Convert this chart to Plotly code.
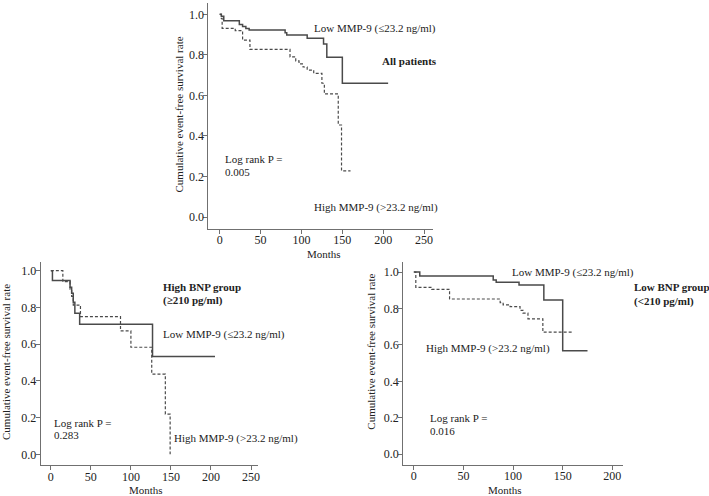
import plotly.graph_objects as go

# ---------------- data ----------------
# All patients
all_low_t = [0, 2, 5, 24, 28, 32, 36, 80, 82, 107, 127, 131, 150, 206]
all_low_s = [1.0, 0.99, 0.968, 0.95, 0.94, 0.93, 0.922, 0.909, 0.898, 0.882, 0.853, 0.788, 0.66, 0.66]
all_high_t = [0, 2, 3, 19, 28, 37, 86, 93, 97, 102, 107, 115, 125, 128, 145, 149, 160]
all_high_s = [1.0, 0.98, 0.931, 0.92, 0.873, 0.827, 0.79, 0.77, 0.755, 0.74, 0.725, 0.709, 0.66, 0.607, 0.454, 0.228, 0.228]

# High BNP group
hbnp_low_t = [0, 2, 24, 26, 28, 30, 36, 127, 205]
hbnp_low_s = [1.0, 0.946, 0.91, 0.877, 0.828, 0.768, 0.708, 0.532, 0.532]
hbnp_high_t = [0, 15, 24, 26, 28, 37, 87, 100, 126, 143, 149]
hbnp_high_s = [1.0, 0.94, 0.90, 0.86, 0.813, 0.75, 0.672, 0.583, 0.437, 0.219, 0.0]

# Low BNP group
lbnp_low_t = [0, 6, 80, 83, 106, 131, 150, 175]
lbnp_low_s = [1.0, 0.978, 0.956, 0.944, 0.929, 0.847, 0.568, 0.568]
lbnp_high_t = [0, 2, 18, 36, 87, 90, 97, 107, 110, 115, 130, 161]
lbnp_high_s = [1.0, 0.916, 0.905, 0.852, 0.832, 0.82, 0.81, 0.79, 0.774, 0.743, 0.67, 0.67]

y_ticks = [0.0, 0.2, 0.4, 0.6, 0.8, 1.0]
x_ticks_250 = [0, 50, 100, 150, 200, 250]
x_ticks_200 = [0, 50, 100, 150, 200]

low_label = "Low MMP-9 (≤23.2 ng/ml)"
high_label = "High MMP-9 (>23.2 ng/ml)"
y_title = "Cumulative event-free survival rate"
x_title = "Months"

# ---------------- figure ----------------
W, H = 709, 496
FONT = "Liberation Serif, Times New Roman, serif"
LINE_COL = "#4a4a4a"
AX_COL = "#707070"


def px(x):
    return x / W


def py(y):
    return 1 - y / H


fig = go.Figure()

panels = [
    ("x", "y", all_low_t, all_low_s, all_high_t, all_high_s),
    ("x2", "y2", hbnp_low_t, hbnp_low_s, hbnp_high_t, hbnp_high_s),
    ("x3", "y3", lbnp_low_t, lbnp_low_s, lbnp_high_t, lbnp_high_s),
]
for xa, ya, lt, ls, ht, hs in panels:
    fig.add_trace(go.Scatter(x=lt, y=ls, mode="lines", line_shape="hv",
                             line=dict(color=LINE_COL, width=1.5),
                             xaxis=xa, yaxis=ya, showlegend=False, hoverinfo="skip"))
    fig.add_trace(go.Scatter(x=ht, y=hs, mode="lines", line_shape="hv",
                             line=dict(color=LINE_COL, width=1.2, dash="3px,2px"),
                             xaxis=xa, yaxis=ya, showlegend=False, hoverinfo="skip"))

axis_common = dict(showline=True, linecolor=AX_COL, linewidth=1, ticks="outside",
                   ticklen=4, tickcolor=AX_COL, showgrid=False, zeroline=False,
                   tickfont=dict(family=FONT, size=12, color="#222"))
xax = dict(ticklabelstandoff=-4, **axis_common)
yax = dict(ticklabelstandoff=-3, tickformat=".1f", **axis_common)

# domains (pixels -> paper)
dom = {
    "top": (209, 434, 3, 228.7),
    "bl": (40.7, 258.3, 261.7, 465.3),
    "br": (404.3, 624.3, 261.7, 464.5),
}


def xd(k):
    a, b, _, _ = dom[k]
    return [px(a), px(b)]


def yd(k):
    _, _, t, b = dom[k]
    return [py(b), py(t)]


fig.update_layout(
    width=W, height=H, margin=dict(l=0, r=0, t=0, b=0),
    plot_bgcolor="white", paper_bgcolor="white",
    font=dict(family=FONT, size=11, color="#222"),
    xaxis=dict(domain=xd("top"), range=[-13.8, 260.6], tickvals=x_ticks_250, anchor="y", **xax),
    yaxis=dict(domain=yd("top"), range=[-0.0577, 1.0558], tickvals=y_ticks, anchor="x", **yax),
    xaxis2=dict(domain=xd("bl"), range=[-12.8, 258.2], tickvals=x_ticks_250, anchor="y2", **xax),
    yaxis2=dict(domain=yd("bl"), range=[-0.0599, 1.049], tickvals=y_ticks, anchor="x2", **yax),
    xaxis3=dict(domain=xd("br"), range=[-10.75, 210.3], tickvals=x_ticks_200, anchor="y3", **xax),
    yaxis3=dict(domain=yd("br"), range=[-0.056, 1.0565], tickvals=y_ticks, anchor="x3", **yax),
)

ann = []


def text(x, y, s, bold=False, anchor="left", angle=0):
    ann.append(dict(x=px(x), y=py(y), xref="paper", yref="paper", text=("<b>%s</b>" % s) if bold else s,
                    showarrow=False, xanchor=anchor, yanchor="middle", textangle=angle,
                    font=dict(family=FONT, size=11, color="#222")))


# top panel
text(313.3, 28.3, low_label)
text(381, 61, "All patients", bold=True)
text(224, 159, "Log rank P =")
text(224, 172.3, "0.005")
text(312.7, 207.3, high_label)
text(180, 114, y_title, anchor="center", angle=-90)
text(325, 254, x_title, anchor="center")

# bottom-left panel
text(161.7, 287.3, "High BNP group", bold=True)
text(161.7, 300.7, "(≥210 pg/ml)", bold=True)
text(161.7, 334, low_label)
text(51.7, 422.7, "Log rank P =")
text(51.7, 435, "0.283")
text(172.7, 438.3, high_label)
text(6, 362, y_title, anchor="center", angle=-90)
text(146.7, 490, x_title, anchor="center")

# bottom-right panel
text(511.7, 272.7, low_label)
text(633.3, 287.3, "Low BNP group", bold=True)
text(633.3, 301.7, "(<210 pg/ml)", bold=True)
text(425, 348.3, high_label)
text(429.3, 418.3, "Log rank P =")
text(429.3, 430.7, "0.016")
text(371.7, 352, y_title, anchor="center", angle=-90)
text(506.7, 490, x_title, anchor="center")

fig.update_layout(annotations=ann)
fig.write_html("out.html", config={"displayModeBar": False},
               post_script="document.body.style.margin='0';document.body.style.overflow='hidden';")
